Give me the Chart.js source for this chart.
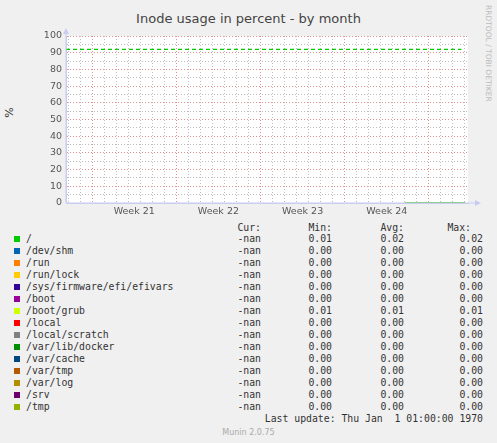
<!DOCTYPE html>
<html>
<head>
<meta charset="utf-8">
<script src="https://cdn.jsdelivr.net/npm/chart.js@4"></script>
<style>
  body { margin: 0; background: #f0f0f0; font-family: "DejaVu Sans", sans-serif; color: #333; }
  #wrap { position: relative; width: 497px; height: 443px; }
  #chartBox { position: absolute; left: 0; top: 0; width: 497px; height: 220px; }
  .abs { position: absolute; white-space: pre; font-size: 9.5px; }
  #legend div { position: absolute; height: 12px; font-family: "DejaVu Sans Mono", monospace; font-size: 9.8px; white-space: pre; }
  .sw { position: absolute; width: 6px; height: 6px; }
</style>
</head>
<body>
<div id="wrap">
  <div class="abs" style="left:0;width:497px;top:11px;text-align:center;font-size:13px;color:#444">Inode usage in percent - by month</div>
  <div class="abs" style="left:4px;top:106px;transform:rotate(-90deg);font-size:11px">%</div>
  <div class="abs" style="left:493px;top:5px;transform-origin:0 0;transform:rotate(90deg);font-size:7.5px;color:#bbb">RRDTOOL / TOBI OETIKER</div>
  <div id="chartBox"><canvas id="c"></canvas></div>
  <div id="legend"></div>
  <div class="abs" style="right:14px;top:413px;font-family:'DejaVu Sans Mono',monospace;font-size:9.8px">Last update: Thu Jan  1 01:00:00 1970</div>
  <div class="abs" style="left:0;width:497px;top:428px;text-align:center;font-size:8px;color:#aaa">Munin 2.0.75</div>
</div>
<script>
// x axis is in days; week boundaries fall on multiples of 7
const weekLabels = ['Week 21', 'Week 22', 'Week 23', 'Week 24'];
const weekMid = [10.5, 17.5, 24.5, 31.5];
const xMin = 4.83, xMax = 38.25;

const names = ['/', '/dev/shm', '/run', '/run/lock', '/sys/firmware/efi/efivars', '/boot', '/boot/grub', '/local',
  '/local/scratch', '/var/lib/docker', '/var/cache', '/var/tmp', '/var/log', '/srv', '/tmp'];
const colors = ['#00cc00', '#0066b3', '#ff8000', '#ffcc00', '#330099', '#990099', '#ccff00', '#ff0000',
  '#808080', '#008f00', '#00487d', '#b35a00', '#b38f00', '#6b006b', '#8fb300'];
const curVals = names.map(() => '-nan');
const minVals = ['0.01', '0.00', '0.00', '0.00', '0.00', '0.00', '0.01', '0.00', '0.00', '0.00', '0.00', '0.00', '0.00', '0.00', '0.00'];
const avgVals = ['0.02', '0.00', '0.00', '0.00', '0.00', '0.00', '0.01', '0.00', '0.00', '0.00', '0.00', '0.00', '0.00', '0.00', '0.00'];
const maxVals = ['0.02', '0.00', '0.00', '0.00', '0.00', '0.00', '0.01', '0.00', '0.00', '0.00', '0.00', '0.00', '0.00', '0.00', '0.00'];

// only the last few days hold data
const dataDays = [33, 34, 35, 36, 37, 38];
const rootSeries = [0.02, 0.02, 0.02, 0.02, 0.02, 0.02];
const tmpSeries = [0.01, 0.01, 0.01, 0.01, 0.01, 0.01];
const warnDays = [xMin, 37.7];
const warnLevel = 92;

const datasets = [
  { data: dataDays.map((d, i) => ({ x: d, y: rootSeries[i] })), borderColor: colors[0], borderWidth: 1, pointRadius: 0 },
  { data: dataDays.map((d, i) => ({ x: d, y: tmpSeries[i] })), borderColor: colors[14], borderWidth: 1, pointRadius: 0 },
  { data: warnDays.map(d => ({ x: d, y: warnLevel })), borderColor: '#00cc00', borderWidth: 1.3, borderDash: [4, 3], pointRadius: 0 }
];

const isWeek = v => Math.abs(v % 7) < 1e-6;

new Chart(document.getElementById('c'), {
  type: 'line',
  data: { datasets },
  options: {
    responsive: true, maintainAspectRatio: false, animation: false,
    layout: { padding: { top: 36, right: 29, left: 0, bottom: 0 } },
    plugins: { legend: { display: false }, tooltip: { enabled: false } },
    scales: {
      x: {
        type: 'linear', min: xMin, max: xMax,
        afterBuildTicks: s => {
          const t = [];
          for (let d = 5; d <= 38; d++) t.push({ value: d });
          weekMid.forEach(v => t.push({ value: v }));
          s.ticks = t.sort((a, b) => a.value - b.value);
        },
        afterFit: s => { s.height = 17; },
        ticks: {
          autoSkip: false, maxRotation: 0, padding: 3, color: '#555',
          font: { family: 'DejaVu Sans', size: 9.5 },
          callback: v => { const i = weekMid.indexOf(v); return i >= 0 ? weekLabels[i] : ''; }
        },
        grid: {
          drawTicks: false,
          color: c => weekMid.includes(c.tick.value) ? 'rgba(0,0,0,0)' : (isWeek(c.tick.value) ? '#e09090' : '#bdbdbd'),
          lineWidth: 1
        },
        border: { display: true, color: '#c8ccf0', dash: [1, 2] }
      },
      y: {
        min: 0, max: 100,
        afterBuildTicks: s => { const t = []; for (let v = 0; v <= 100; v += 5) t.push({ value: v }); s.ticks = t; },
        afterFit: s => { s.width = 66; },
        ticks: {
          autoSkip: false, color: '#555', padding: 4,
          font: { family: 'DejaVu Sans', size: 9.5 },
          callback: v => v % 10 === 0 ? v : ''
        },
        grid: {
          drawTicks: false,
          color: c => c.tick.value % 10 === 0 ? '#e09090' : '#bdbdbd'
        },
        border: { display: true, color: '#c8ccf0', dash: [1, 2] }
      }
    }
  },
  plugins: [{
    id: 'bg',
    beforeDraw: ch => {
      const a = ch.chartArea, ctx = ch.ctx;
      ctx.save(); ctx.fillStyle = '#fff';
      ctx.fillRect(a.left, a.top, a.right - a.left, a.bottom - a.top);
      ctx.restore();
    },
    afterDraw: ch => {
      const a = ch.chartArea, ctx = ch.ctx;
      ctx.save(); ctx.strokeStyle = '#c8ccf0'; ctx.fillStyle = '#c8ccf0';
      ctx.beginPath(); ctx.moveTo(a.left, a.bottom); ctx.lineTo(a.right + 8, a.bottom);
      ctx.moveTo(a.left, a.bottom); ctx.lineTo(a.left, a.top - 6); ctx.stroke();
      ctx.beginPath(); ctx.moveTo(a.right + 13, a.bottom); ctx.lineTo(a.right + 7, a.bottom - 3); ctx.lineTo(a.right + 7, a.bottom + 3); ctx.fill();
      ctx.beginPath(); ctx.moveTo(a.left, a.top - 8); ctx.lineTo(a.left - 3, a.top - 2); ctx.lineTo(a.left + 3, a.top - 2); ctx.fill();
      ctx.restore();
    }
  }]
});

// legend table
const lg = document.getElementById('legend');
function cell(text, left, top, right) {
  const d = document.createElement('div');
  d.textContent = text; d.style.top = top + 'px';
  if (right) { d.style.right = (497 - left) + 'px'; } else { d.style.left = left + 'px'; }
  lg.appendChild(d);
}
cell('Cur:', 261, 222, true); cell('Min:', 332, 222, true); cell('Avg:', 404, 222, true); cell('Max:', 471, 222, true);
names.forEach((n, i) => {
  const top = 233 + i * 12;
  const sw = document.createElement('span');
  sw.className = 'sw'; sw.style.left = '14px'; sw.style.top = (top + 3) + 'px'; sw.style.background = colors[i];
  lg.appendChild(sw);
  cell(n, 26, top);
  cell(curVals[i], 261, top, true);
  cell(minVals[i], 332, top, true);
  cell(avgVals[i], 404, top, true);
  cell(maxVals[i], 483, top, true);
});
</script>
</body>
</html>
